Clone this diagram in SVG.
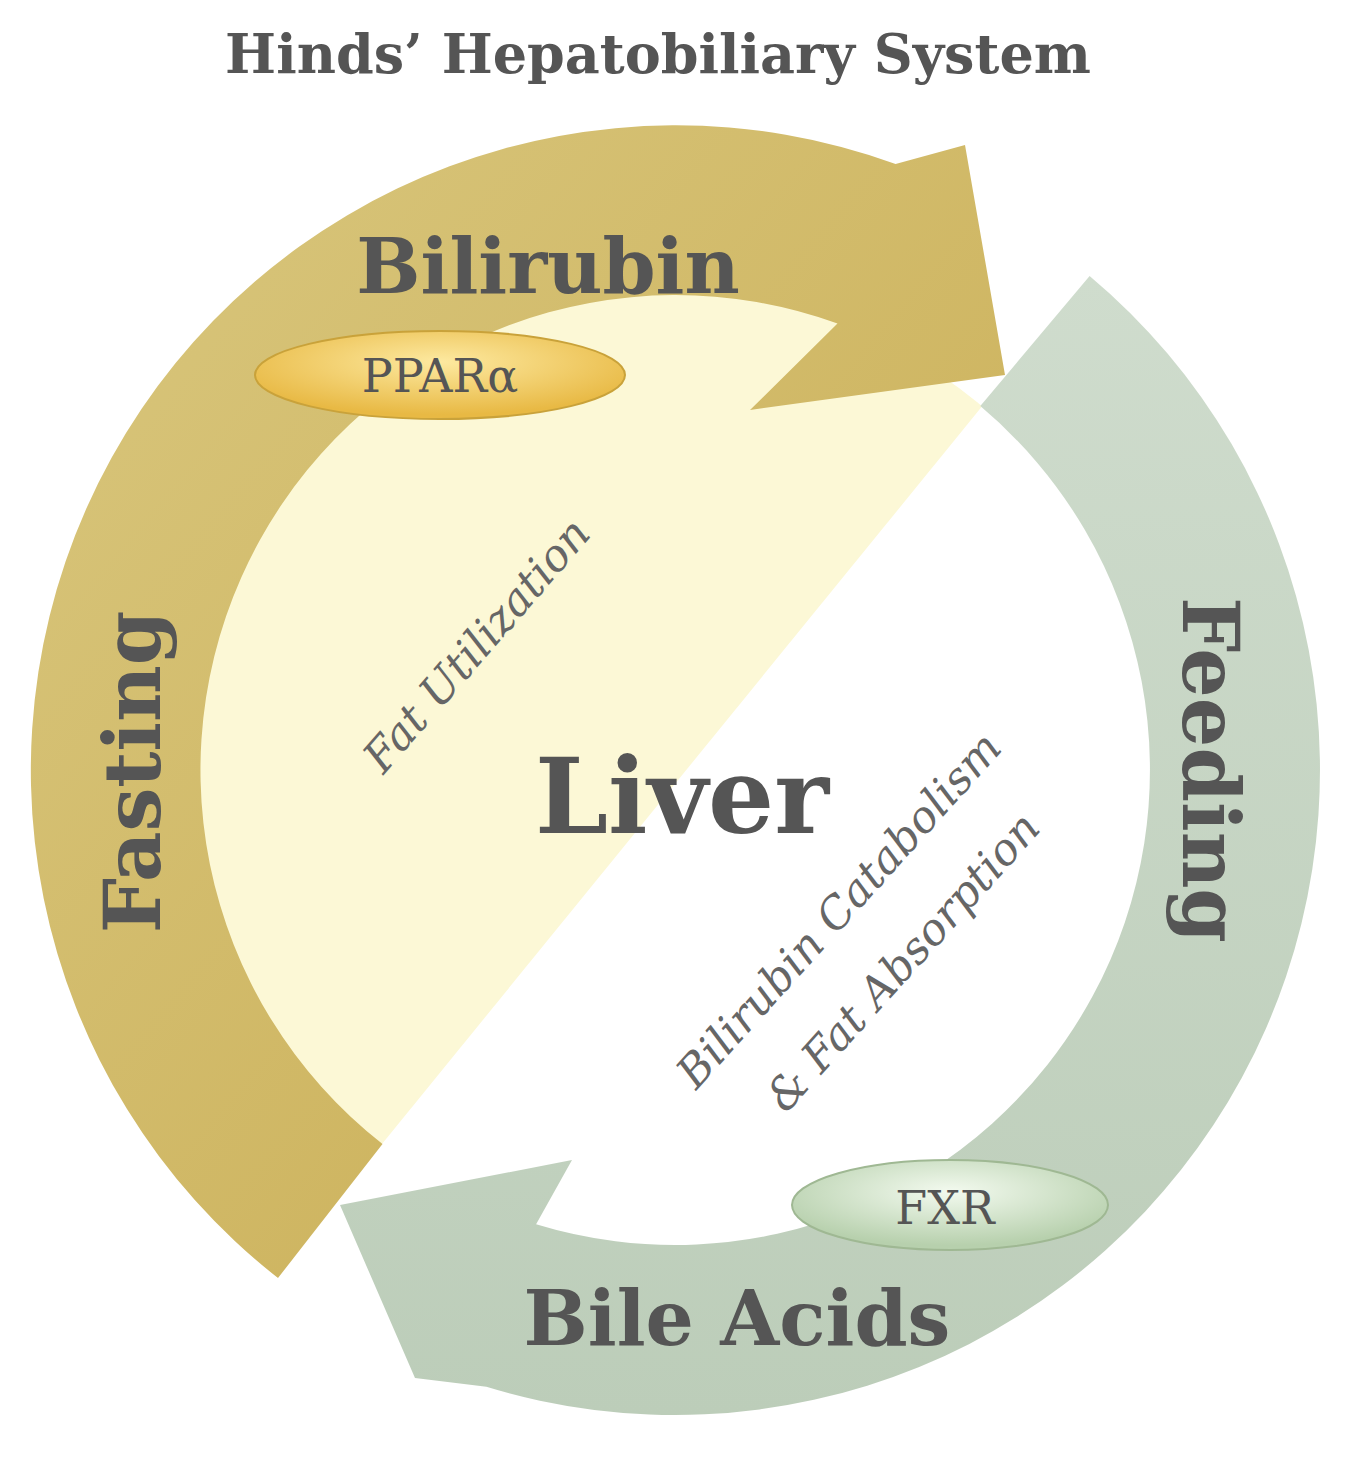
<svg xmlns="http://www.w3.org/2000/svg" width="1358" height="1484" viewBox="0 0 1358 1484">
<defs>
<linearGradient id="gold" x1="0" y1="0" x2="1" y2="1"><stop offset="0" stop-color="#d9c77e"/><stop offset="1" stop-color="#c9ac52"/></linearGradient>
<linearGradient id="green" x1="0" y1="0" x2="0" y2="1"><stop offset="0" stop-color="#cfdccd"/><stop offset="1" stop-color="#bccdb9"/></linearGradient>
<radialGradient id="ppar" cx="0.5" cy="0.35" r="0.6"><stop offset="0" stop-color="#fde9a0"/><stop offset="1" stop-color="#e8b944"/></radialGradient>
<radialGradient id="fxr" cx="0.5" cy="0.35" r="0.6"><stop offset="0" stop-color="#f3faef"/><stop offset="1" stop-color="#b7d0ad"/></radialGradient>
<clipPath id="inner"><circle cx="675" cy="770" r="476"/></clipPath>
<style>
.t{font-family:"DejaVu Serif","Liberation Serif",serif;fill:#555;}
.b{font-weight:bold;}
.i{font-style:italic;fill:#666;}
</style>
</defs>
<g id="center">
<circle cx="675" cy="770" r="476" fill="#ffffff"/>
<polygon points="0,0 1100,0 1010,372 382,1144 0,1484" fill="#fcf8d6" clip-path="url(#inner)"/>
</g>
<g id="connectors">
<path id="gold-arrow" d="M278,1278 A645,645 0 0 1 895.6,163.9 L965,145 L1005,375 L750,410 L837.5,323.6 A475,475 0 0 0 382.5,1144 Z" fill="url(#gold)"/>
<path id="green-arrow" d="M1089.6,275.9 A645,645 0 0 1 486.4,1386.8 L415,1378 L340,1205 L572,1160 L536.1,1224.2 A475,475 0 0 0 980.3,406.1 Z" fill="url(#green)"/>
</g>
<text class="t b" x="658" y="73" font-size="54" text-anchor="middle">Hinds’ Hepatobiliary System</text>
<g id="bilirubin"><text class="t b" x="548" y="293" font-size="76" text-anchor="middle">Bilirubin</text></g>
<g id="ppar-node"><ellipse cx="440" cy="375" rx="185" ry="44" fill="url(#ppar)" stroke="#c9a23a" stroke-width="2"/><text class="t" x="440" y="392" font-size="46" text-anchor="middle">PPARα</text></g>
<g id="fasting"><text class="t b" transform="translate(160,772) rotate(-90)" font-size="78" text-anchor="middle">Fasting</text></g>
<g id="feeding"><text class="t b" transform="translate(1183,770) rotate(90)" font-size="78" text-anchor="middle">Feeding</text></g>
<g id="liver"><text class="t b" x="682" y="833" font-size="104" text-anchor="middle">Liver</text></g>
<g id="fat-util"><text class="t i" transform="translate(488,655) rotate(-49)" font-size="44" text-anchor="middle">Fat Utilization</text></g>
<g id="catabolism"><text class="t i" transform="translate(850,920) rotate(-48)" font-size="44" text-anchor="middle">Bilirubin Catabolism</text>
<text class="t i" transform="translate(914,972) rotate(-48)" font-size="44" text-anchor="middle">&amp; Fat Absorption</text></g>
<g id="fxr-node"><ellipse cx="950" cy="1205" rx="158" ry="45" fill="url(#fxr)" stroke="#9fb893" stroke-width="2"/><text class="t" x="945" y="1224" font-size="46" text-anchor="middle">FXR</text></g>
<g id="bile"><text class="t b" x="737" y="1345" font-size="76" text-anchor="middle">Bile Acids</text></g>
</svg>
